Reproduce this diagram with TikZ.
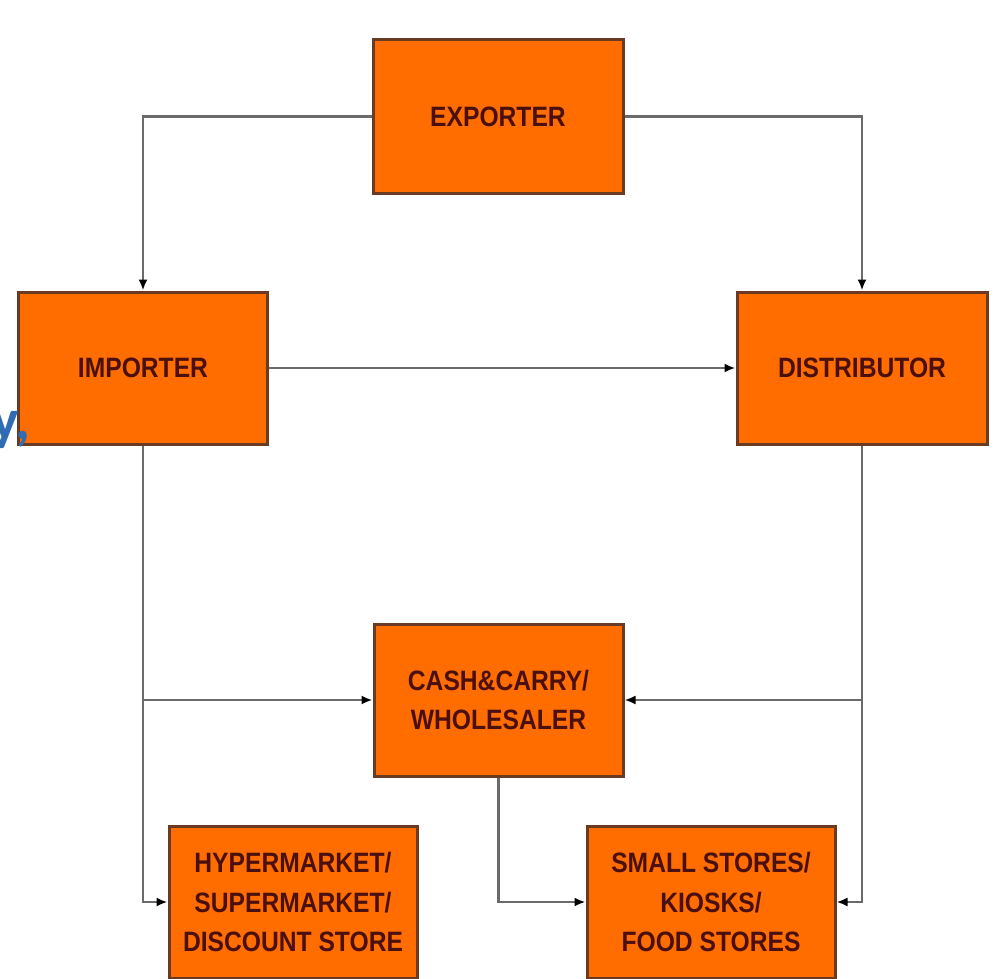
\documentclass[tikz,border=0pt]{standalone}
\usepackage{fontspec}
\usetikzlibrary{arrows.meta}
\newfontfamily\boxfam[FakeStretch=0.88]{Liberation Sans}
\newfontfamily\bluefam{Carlito}
\definecolor{boxfill}{HTML}{FF6C00}
\definecolor{boxedge}{HTML}{6B3A22}
\definecolor{boxtext}{HTML}{4A1010}
\definecolor{linegray}{HTML}{6A6A6A}
\definecolor{slideblue}{HTML}{2F6CB3}
\tikzset{
  stagebox/.style={draw=boxedge, fill=boxfill, line width=3pt, inner sep=0pt,
    text=boxtext, align=center,
    font=\boxfam\bfseries\fontsize{28}{39.5}\selectfont},
  conn/.style={draw=linegray, line width=2.2pt,
    -{Latex[length=11pt,width=9pt,color=black]}},
}
\begin{document}
\begin{tikzpicture}[x=1pt,y=-1pt]
\useasboundingbox (0,0) rectangle (998,979);
\fill[white] (0,0) rectangle (998,979);

\node[stagebox, minimum width=250pt, minimum height=153pt] (exp) at (498,116.5) {EXPORTER};
\node[stagebox, minimum width=249pt, minimum height=152pt] (imp) at (143,368) {IMPORTER};
\node[stagebox, minimum width=250pt, minimum height=152pt] (dist) at (862,368) {DISTRIBUTOR};
\node[stagebox, minimum width=249pt, minimum height=152pt] (cash) at (498.5,700) {CASH\&CARRY/\\WHOLESALER};
\node[stagebox, minimum width=248pt, minimum height=152pt] (hyp) at (293,902) {HYPERMARKET/\\SUPERMARKET/\\DISCOUNT STORE};
\node[stagebox, minimum width=248pt, minimum height=152pt] (small) at (711,902) {SMALL STORES/\\KIOSKS/\\FOOD STORES};

\coordinate (jl) at (imp.south |- cash.west);
\coordinate (jr) at (dist.south |- cash.east);

\draw[conn] (exp.west) -| (imp.north);
\draw[conn] (exp.east) -| (dist.north);
\draw[conn] (imp.east) -- (dist.west);
\draw[conn] (imp.south) |- (hyp.west);
\draw[conn] (jl) -- (cash.west);
\draw[conn] (dist.south) |- (small.east);
\draw[conn] (jr) -- (cash.east);
\draw[conn] (cash.south) |- (small.west);

\node[anchor=base east, inner sep=0pt, text=slideblue,
  font=\bluefam\bfseries\fontsize{58}{60}\selectfont] (blue1) at (31,439) {y,};
\node[anchor=base east, inner sep=0pt, text=slideblue,
  font=\bluefam\bfseries\fontsize{22}{24}\selectfont] (blue2) at (1.5,909) {:};
\end{tikzpicture}
\end{document}
